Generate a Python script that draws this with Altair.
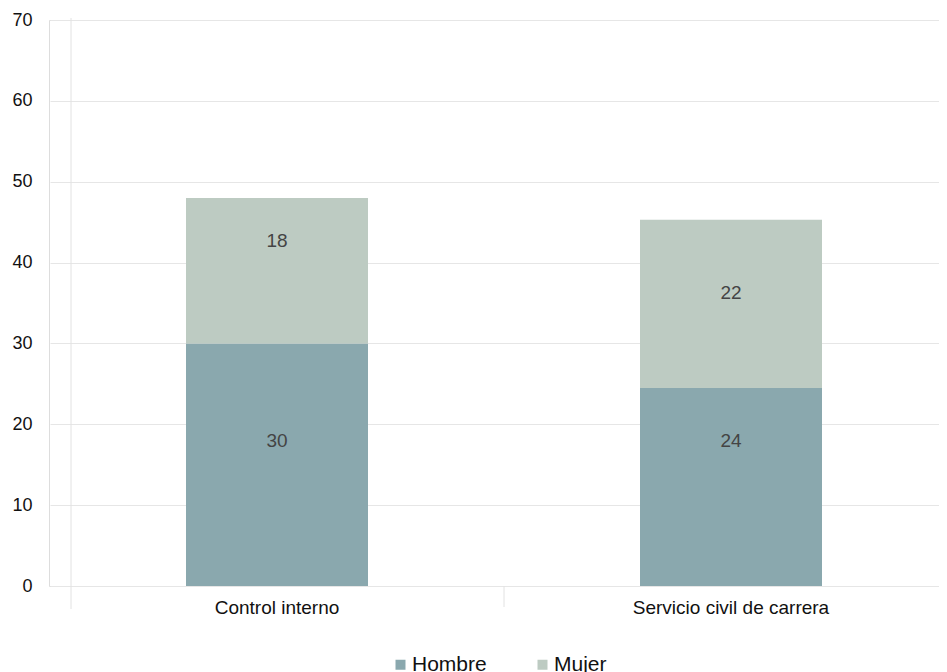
import altair as alt
import pandas as pd

categories = ["Control interno", "Servicio civil de carrera"]
series = ["Hombre", "Mujer"]
colors = ["#8aa8ae", "#bdcbc2"]

hombre = [30, 24.5]
mujer = [18, 20.8]
hombre_labels = ["30", "24"]
mujer_labels = ["18", "22"]
hombre_label_pos = [17.9, 17.9]
mujer_label_pos = [42.7, 36.2]

y_ticks = [0, 10, 20, 30, 40, 50, 60, 70]

rows = []
for i, c in enumerate(categories):
    rows.append({"cat": c, "serie": "Hombre", "idx": 0, "value": hombre[i],
                 "label": hombre_labels[i], "lpos": hombre_label_pos[i]})
    rows.append({"cat": c, "serie": "Mujer", "idx": 1, "value": mujer[i],
                 "label": mujer_labels[i], "lpos": mujer_label_pos[i]})
df = pd.DataFrame(rows)

FONT = "Liberation Sans"
W, H = 890, 566

x_enc = alt.X("cat:N", sort=categories,
              scale=alt.Scale(range=[1, 909], paddingInner=0, paddingOuter=0),
              axis=alt.Axis(title=None, labelAngle=0, ticks=False, domain=False,
                            labelPadding=12, labelFontSize=19, labelColor="#111111",
                            labelFont=FONT, grid=False, labelLimit=0))

bars = alt.Chart(df).mark_bar(size=182).encode(
    x=x_enc,
    y=alt.Y("value:Q", stack="zero",
            scale=alt.Scale(domain=[0, 70], nice=False),
            axis=alt.Axis(title=None, values=y_ticks, domain=False, ticks=False,
                          labelPadding=17, labelFontSize=18, labelColor="#111111",
                          labelFont=FONT, gridColor="#e6e6e6", gridWidth=1)),
    color=alt.Color("serie:N", scale=alt.Scale(domain=series, range=colors),
                    legend=alt.Legend(title=None, orient="none", direction="horizontal",
                                      legendX=341, legendY=634, padding=0,
                                      symbolType="square", symbolSize=100,
                                      symbolStrokeWidth=0, labelFontSize=21,
                                      labelFont=FONT, labelColor="#111111",
                                      labelOffset=1, columnPadding=45)),
    order=alt.Order("idx:Q"),
)

texts = alt.Chart(df).mark_text(fontSize=19, font=FONT, color="#444444").encode(
    x=alt.X("cat:N", sort=categories),
    y=alt.Y("lpos:Q"),
    text="label:N",
)

vline = alt.Chart(pd.DataFrame({"a": [0]})).mark_rule(color="#e2e2e2", strokeWidth=1).encode(
    x=alt.value(22), y=alt.value(-2), y2=alt.value(589))
tick = alt.Chart(pd.DataFrame({"a": [0]})).mark_rule(color="#e2e2e2", strokeWidth=1).encode(
    x=alt.value(455), y=alt.value(566), y2=alt.value(587))

chart = alt.layer(vline, tick, bars, texts).properties(
    width=W, height=H,
    autosize=alt.AutoSizeParams(type="none"),
    padding={"left": 41, "top": 12, "right": 0, "bottom": 90},
).configure_view(stroke=None).configure(background="white")

chart.save("out.html", embed_options={"renderer": "svg", "actions": False})
